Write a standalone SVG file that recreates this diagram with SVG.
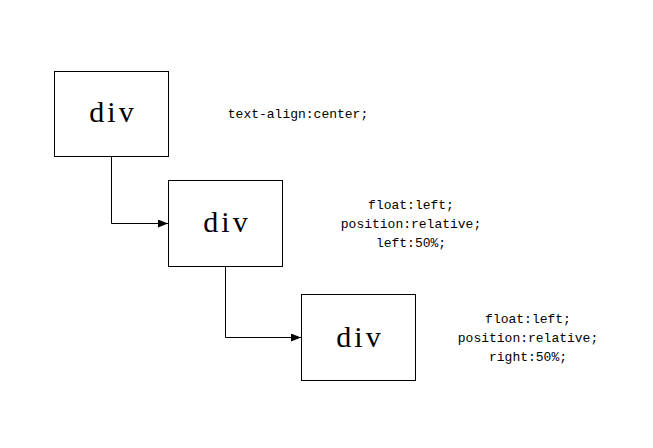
<svg xmlns="http://www.w3.org/2000/svg" width="653" height="448" viewBox="0 0 653 448">
<style>
.box{fill:#fff;stroke:#000;stroke-width:1}
.lbl{font-family:"Liberation Serif",serif;font-size:30px;letter-spacing:3px;text-anchor:middle;fill:#000}
.css{font-family:"Liberation Mono",monospace;font-size:13px;text-anchor:middle;fill:#000}
.conn{fill:none;stroke:#000;stroke-width:1}
</style>
<defs>
<marker id="arr" viewBox="0 0 10 8" refX="10" refY="4" markerWidth="10" markerHeight="8" markerUnits="userSpaceOnUse" orient="auto">
<path d="M0,0 L10,4 L0,8 Z" fill="#000"/>
</marker>
</defs>
<rect width="653" height="448" fill="#fff"/>
<g id="connectors">
<path class="conn" d="M111.5,156 V223.5 H168" marker-end="url(#arr)"/>
<path class="conn" d="M225.5,266 V337.5 H301" marker-end="url(#arr)"/>
</g>
<g id="node1">
<rect class="box" x="54.5" y="71.5" width="114" height="85"/>
<text class="lbl" x="113" y="122">div</text>
</g>
<g id="node2">
<rect class="box" x="168.5" y="180.5" width="114" height="86"/>
<text class="lbl" x="227" y="232">div</text>
</g>
<g id="node3">
<rect class="box" x="301.5" y="294.5" width="114" height="86"/>
<text class="lbl" x="360" y="347">div</text>
</g>
<g id="note1">
<text class="css" x="298" y="118">text-align:center;</text>
</g>
<g id="note2">
<text class="css" x="411" y="209">float:left;</text>
<text class="css" x="411" y="228">position:relative;</text>
<text class="css" x="411" y="247">left:50%;</text>
</g>
<g id="note3">
<text class="css" x="528" y="323">float:left;</text>
<text class="css" x="528" y="342">position:relative;</text>
<text class="css" x="528" y="361">right:50%;</text>
</g>
</svg>
